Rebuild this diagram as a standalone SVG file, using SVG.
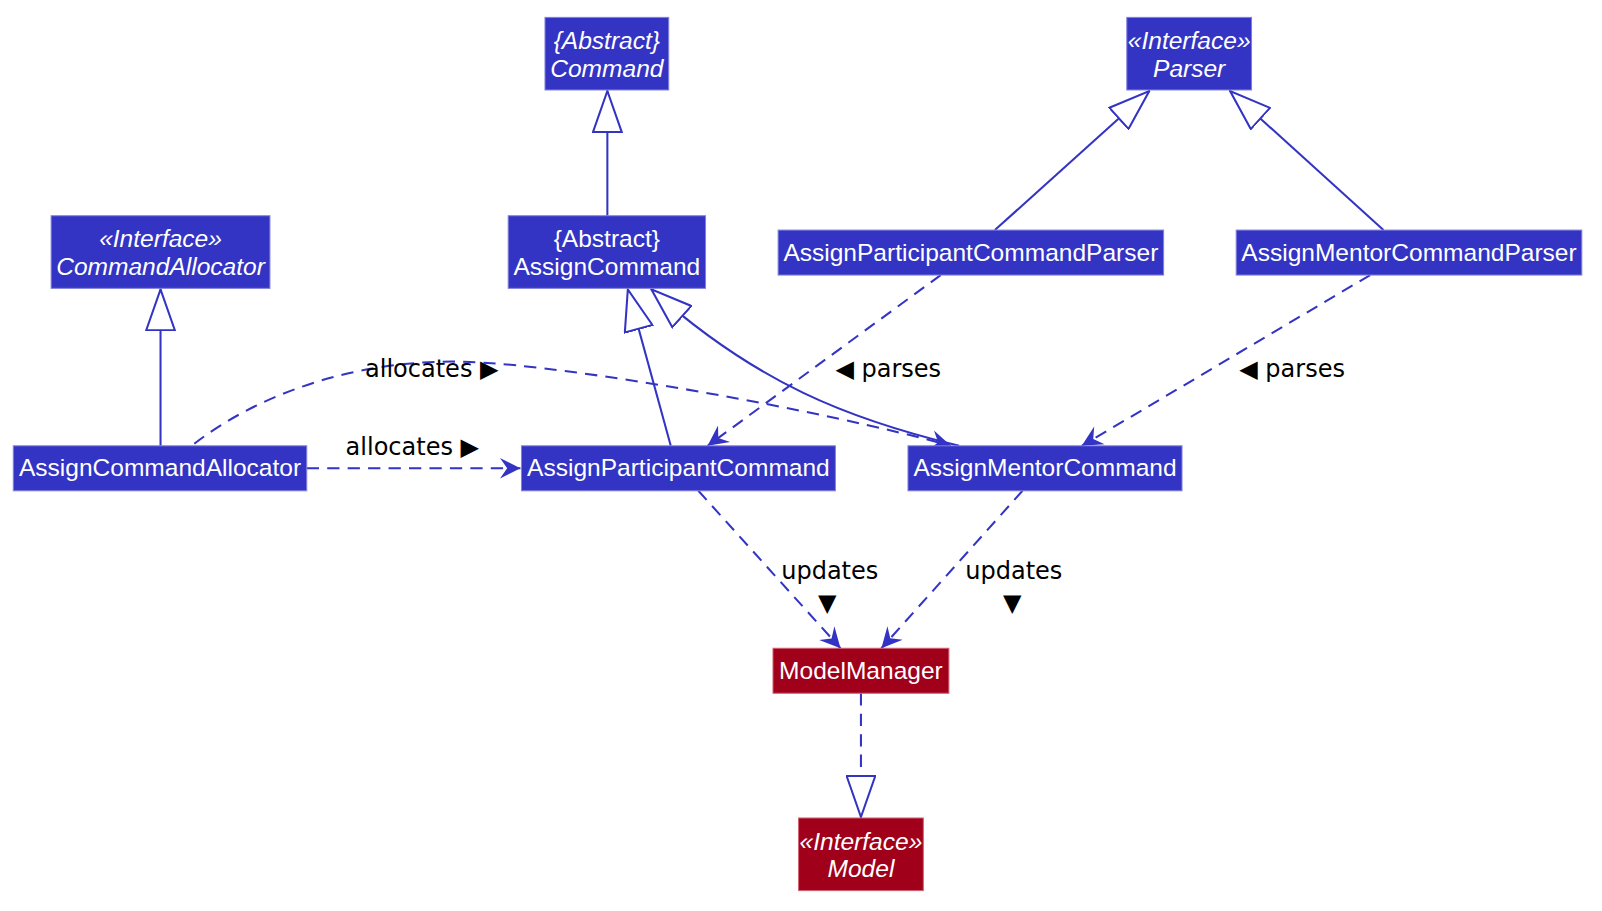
<svg xmlns="http://www.w3.org/2000/svg" width="1602" height="911" viewBox="0 0 1602 911">
<style>
.b{fill:#3333c4;stroke:#8080dd;stroke-width:1}
.r{fill:#a0001a;stroke:#d06070;stroke-width:1}
.t{font-family:"Liberation Sans",Arial,sans-serif;font-size:24px;fill:#ffffff;text-anchor:middle}
.i{font-style:italic}
.e{fill:none;stroke:#3333c4;stroke-width:2}
.d{stroke-dasharray:12,8}
.l{font-family:"DejaVu Sans",sans-serif;font-size:23.5px;fill:#000000}
</style>
<defs>
<marker id="tri" viewBox="-1 -1 42 30" refX="40" refY="14" markerWidth="42" markerHeight="30" markerUnits="userSpaceOnUse" orient="auto">
<path d="M0,0 L40,14 L0,28 Z" fill="#ffffff" stroke="#3333c4" stroke-width="2"/>
</marker>
<marker id="arr" viewBox="-21 -11 22 22" refX="0" refY="0" markerWidth="22" markerHeight="22" markerUnits="userSpaceOnUse" orient="auto">
<path d="M0,0 L-20,-10 L-13,0 L-20,10 Z" fill="#3333c4"/>
</marker>
</defs>
<g transform="scale(1.0225)">
<g id="connectors">
<path class="e" d="M594,211 L594,89" marker-end="url(#tri)"/>
<path class="e" d="M973,225 L1124,89" marker-end="url(#tri)"/>
<path class="e" d="M1353,225 L1203,89" marker-end="url(#tri)"/>
<path class="e" d="M157,436 L157,283" marker-end="url(#tri)"/>
<path class="e" d="M656,436 L614,283" marker-end="url(#tri)"/>
<path class="e" d="M938,436 C830,410 740,375 637,283" marker-end="url(#tri)"/>
<path class="e d" d="M842,678 L842,799" marker-end="url(#tri)"/>
<path class="e d" d="M190,434 C260,380 360,350 460,354 C560,358 800,400 930,436" marker-end="url(#arr)"/>
<path class="e d" d="M300,458 L509,458" marker-end="url(#arr)"/>
<path class="e d" d="M920,269 L692,436" marker-end="url(#arr)"/>
<path class="e d" d="M1340,269 L1058,436" marker-end="url(#arr)"/>
<path class="e d" d="M683,480 L822,634" marker-end="url(#arr)"/>
<path class="e d" d="M1000,480 L862,634" marker-end="url(#arr)"/>
</g>
<g id="labels">
<text class="l" x="357" y="369">allocates ▶</text>
<text class="l" x="338" y="445">allocates ▶</text>
<text class="l" x="817" y="369">◀ parses</text>
<text class="l" x="1212" y="369">◀ parses</text>
<text class="l" x="764" y="566">updates</text>
<text class="l" x="809" y="598" text-anchor="middle">▼</text>
<text class="l" x="944" y="566">updates</text>
<text class="l" x="990" y="598" text-anchor="middle">▼</text>
</g>
<g id="Command"><rect class="b" x="533" y="17" width="121" height="71"/><text class="t i" x="593.5" y="48">{Abstract}</text><text class="t i" x="593.5" y="75">Command</text></g>
<g id="Parser"><rect class="b" x="1102" y="17" width="122" height="71"/><text class="t i" x="1163" y="48">«Interface»</text><text class="t i" x="1163" y="75">Parser</text></g>
<g id="CommandAllocator"><rect class="b" x="50" y="211" width="214" height="71"/><text class="t i" x="157" y="242">«Interface»</text><text class="t i" x="157" y="269">CommandAllocator</text></g>
<g id="AssignCommand"><rect class="b" x="497" y="211" width="193" height="71"/><text class="t" x="593.5" y="242">{Abstract}</text><text class="t" x="593.5" y="269">AssignCommand</text></g>
<g id="AssignParticipantCommandParser"><rect class="b" x="761" y="225" width="377" height="44"/><text class="t" x="949.5" y="255">AssignParticipantCommandParser</text></g>
<g id="AssignMentorCommandParser"><rect class="b" x="1209" y="225" width="338" height="44"/><text class="t" x="1378" y="255">AssignMentorCommandParser</text></g>
<g id="AssignCommandAllocator"><rect class="b" x="13" y="436" width="287" height="44"/><text class="t" x="156.5" y="466">AssignCommandAllocator</text></g>
<g id="AssignParticipantCommand"><rect class="b" x="510" y="436" width="307" height="44"/><text class="t" x="663.5" y="466">AssignParticipantCommand</text></g>
<g id="AssignMentorCommand"><rect class="b" x="888" y="436" width="268" height="44"/><text class="t" x="1022" y="466">AssignMentorCommand</text></g>
<g id="ModelManager"><rect class="r" x="756" y="634" width="172" height="44"/><text class="t" x="842" y="664">ModelManager</text></g>
<g id="Model"><rect class="r" x="781" y="800" width="122" height="71"/><text class="t i" x="842" y="831">«Interface»</text><text class="t i" x="842" y="858">Model</text></g>
</g>
</svg>
